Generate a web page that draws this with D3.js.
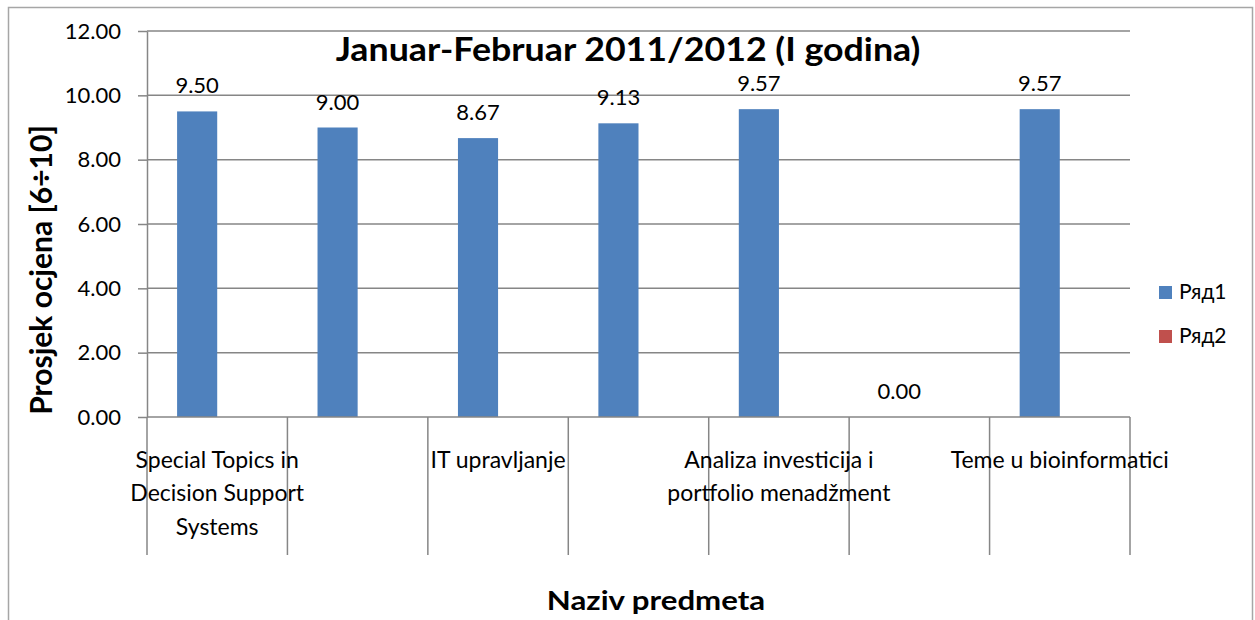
<!DOCTYPE html>
<html lang="bs">
<head>
    <meta charset="UTF-8">
    <title>Januar-Februar 2011/2012</title>
    <script src="https://d3js.org/d3.v7.min.js"></script>
    <style>
        body { margin: 0; background: #fff; }
        svg text { font-family: Lato, "Open Sans", sans-serif; fill: #000; }
    </style>
</head>
<body>
<div id="chart"></div>
<script>
    // Data
    var categories = [
        "Special Topics in Decision Support Systems",
        "Predmet 2",
        "IT upravljanje",
        "Predmet 4",
        "Analiza investicija i portfolio menadžment",
        "Predmet 6",
        "Teme u bioinformatici"
    ];
    var seriesNames = ["Ряд1", "Ряд2"];
    var ryad1 = [9.50, 9.00, 8.67, 9.13, 9.57, 0.00, 9.57];
    var ryad2 = [null, null, null, null, null, null, null];
    var yTicks = [0, 2, 4, 6, 8, 10, 12];
    var colors = ["#4F81BD", "#C0504D"];

    var width = 1255, height = 620;
    var plot = { left: 147, right: 1130, top: 31, bottom: 417 };
    var gridColor = "#868686";

    var svg = d3.select("#chart").append("svg")
        .attr("width", width)
        .attr("height", height);

    // outer chart frame
    svg.append("rect")
        .attr("x", 8.5).attr("y", 7.5)
        .attr("width", 1244).attr("height", 640)
        .style("fill", "none")
        .style("stroke", "#a6a6a6")
        .style("stroke-width", 1.5);

    var x = d3.scaleBand()
        .domain(categories)
        .range([plot.left, plot.right])
        .paddingInner(0).paddingOuter(0);

    var xSub = d3.scaleBand()
        .domain(seriesNames)
        .range([0, x.bandwidth()])
        .paddingInner(0).paddingOuter(0.75);

    var y = d3.scaleLinear()
        .domain([0, 12])
        .range([plot.bottom, plot.top]);

    // gridlines
    svg.append("g").selectAll("line")
        .data(yTicks.filter(function(d) { return d > 0; }))
        .enter().append("line")
        .attr("x1", plot.left).attr("x2", plot.right)
        .attr("y1", function(d) { return y(d); })
        .attr("y2", function(d) { return y(d); })
        .style("stroke", gridColor)
        .style("stroke-width", 1.5);

    // y axis
    var yAxis = d3.axisLeft(y)
        .tickValues(yTicks)
        .tickFormat(d3.format(".2f"))
        .tickSizeInner(9).tickSizeOuter(0).tickPadding(17);

    var gy = svg.append("g")
        .attr("transform", "translate(" + plot.left + ",0)")
        .call(yAxis);
    gy.selectAll("path, line").style("stroke", gridColor).style("stroke-width", 1.5);
    gy.selectAll("text")
        .style("font-size", "22px")
        .style("font-family", "Lato, sans-serif");

    // bars
    var seriesData = [ryad1, ryad2];
    seriesData.forEach(function(values, si) {
        var g = svg.append("g");
        var pts = values.map(function(v, i) { return { cat: categories[i], v: v }; })
            .filter(function(d) { return d.v !== null; });

        g.selectAll("rect")
            .data(pts)
            .enter().append("rect")
            .attr("x", function(d) { return x(d.cat) + xSub(seriesNames[si]); })
            .attr("width", xSub.bandwidth())
            .attr("y", function(d) { return y(d.v); })
            .attr("height", function(d) { return y(0) - y(d.v); })
            .style("fill", colors[si]);

        g.selectAll("text")
            .data(pts)
            .enter().append("text")
            .attr("x", function(d) { return x(d.cat) + xSub(seriesNames[si]) + xSub.bandwidth() / 2; })
            .attr("y", function(d) { return y(d.v) - 18; })
            .attr("text-anchor", "middle")
            .style("font-size", "22px")
            .text(function(d) { return d3.format(".2f")(d.v); });
    });

    // x axis line and category boundary ticks
    var gx = svg.append("g");
    gx.append("line")
        .attr("x1", plot.left).attr("x2", plot.right)
        .attr("y1", plot.bottom).attr("y2", plot.bottom)
        .style("stroke", gridColor).style("stroke-width", 1.5);

    var bounds = categories.map(function(c) { return x(c); }).concat([plot.right]);
    gx.selectAll("line.tick")
        .data(bounds)
        .enter().append("line")
        .attr("class", "tick")
        .attr("x1", function(d) { return d; }).attr("x2", function(d) { return d; })
        .attr("y1", plot.bottom).attr("y2", 555)
        .style("stroke", gridColor).style("stroke-width", 1.5);

    // category labels, every other one shown (like Excel)
    var wrapWidth = 245;
    var labelG = svg.append("g");
    categories.forEach(function(c, i) {
        if (i % 2 !== 0) return;
        var t = labelG.append("text")
            .attr("text-anchor", "middle")
            .style("font-size", "23px");
        var cx = x(c) + x.bandwidth() / 2;
        var words = c.split(" ");
        var line = [];
        var lineNo = 0;
        var tspan = t.append("tspan").attr("x", cx).attr("y", 468);
        words.forEach(function(w) {
            line.push(w);
            tspan.text(line.join(" "));
            if (tspan.node().getComputedTextLength() > wrapWidth && line.length > 1) {
                line.pop();
                tspan.text(line.join(" "));
                line = [w];
                lineNo++;
                tspan = t.append("tspan").attr("x", cx).attr("y", 468 + lineNo * 33.3).text(w);
            }
        });
    });

    // title
    svg.append("text")
        .attr("transform", "translate(628,61) scale(1.1,1)")
        .attr("text-anchor", "middle")
        .style("font-size", "32.5px")
        .style("font-weight", "bold")
        .text("Januar-Februar 2011/2012 (I godina)");

    // axis titles
    svg.append("text")
        .attr("transform", "translate(52,270) rotate(-90)")
        .attr("text-anchor", "middle")
        .style("font-size", "30px")
        .style("font-weight", "bold")
        .text("Prosjek ocjena [6÷10]");

    svg.append("text")
        .attr("transform", "translate(656,610) scale(1.2,1)")
        .attr("text-anchor", "middle")
        .style("font-size", "26px")
        .style("font-weight", "bold")
        .text("Naziv predmeta");

    // legend
    var legend = svg.append("g").selectAll("g")
        .data(seriesNames)
        .enter().append("g")
        .attr("transform", function(d, i) { return "translate(1159," + (286 + i * 44) + ")"; });
    legend.append("rect")
        .attr("width", 13).attr("height", 13)
        .style("fill", function(d, i) { return colors[i]; });
    legend.append("text")
        .attr("x", 20).attr("y", 13)
        .style("font-size", "21px")
        .text(function(d) { return d; });
</script>
</body>
</html>
